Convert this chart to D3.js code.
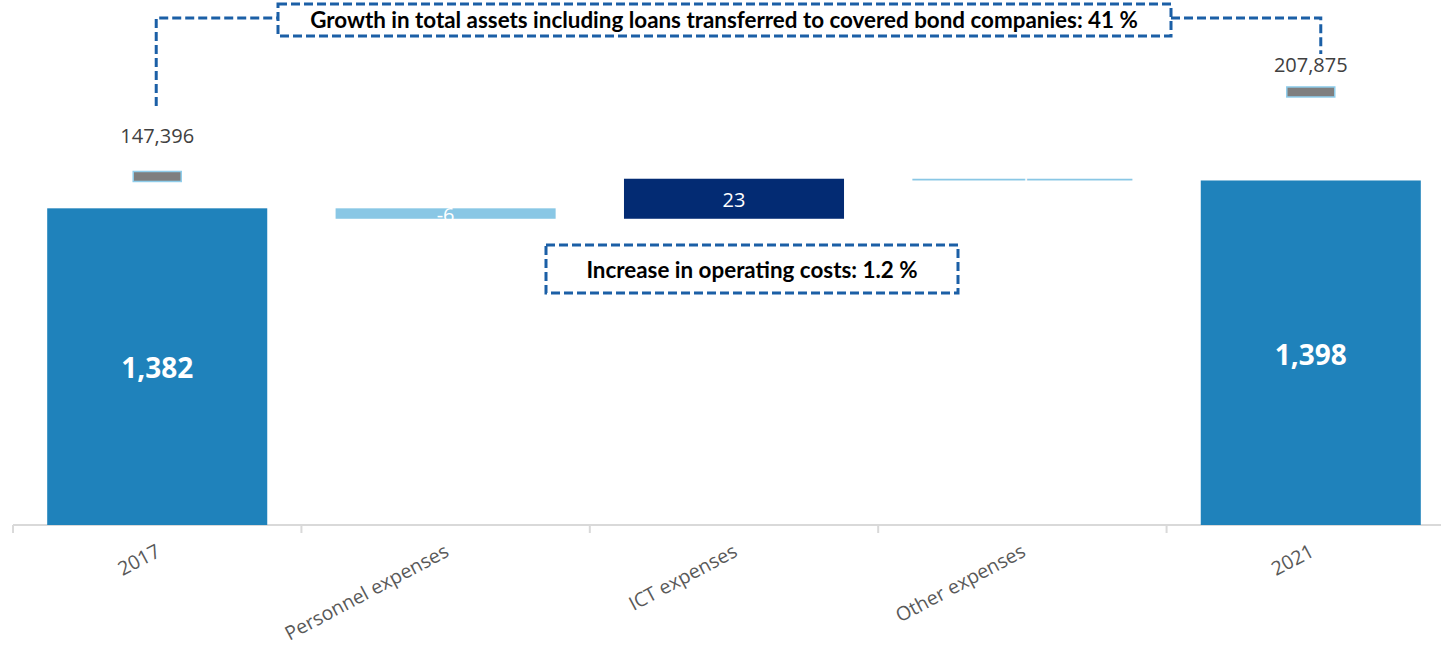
<!DOCTYPE html>
<html>
<head>
<meta charset="utf-8">
<script src="https://cdn.jsdelivr.net/npm/d3@7/dist/d3.min.js"></script>
<style>
  html, body { margin: 0; padding: 0; background: #ffffff; }
  svg { display: block; }
</style>
</head>
<body>
<svg id="chart" width="1441" height="651"></svg>
<script>
// Operating costs bridge 2017 -> 2021 (NOK million) with total assets on a secondary scale
const categories = ["2017", "Personnel expenses", "ICT expenses", "Other expenses", "2021"];
const barKinds   = ["total", "delta", "delta", "delta", "total"];
const costValues = [1382, -6, 23, -1, 1398];
const totalAssets = [147396, null, null, null, 207875];
const growthNote = "Growth in total assets including loans transferred to covered bond companies: 41 %";
const costNote = "Increase in operating costs: 1.2 %";

const svg = d3.select("#chart");

const x = d3.scaleBand()
  .domain(categories)
  .range([13, 1455])
  .paddingInner(0.237)
  .paddingOuter(0.1186);

const y = d3.scaleLinear().domain([1200, 1500]).range([525, 3]);
const y2 = d3.scaleLinear().domain([-100000, 250000]).range([522.2, 33.1]);

const colTotal = "#1f82bb";
const colDown = "#89c7e5";
const colUp = "#032b73";

// Build waterfall segments
let running = 0;
const segs = categories.map((c, i) => {
  const v = costValues[i];
  let lo, hi, fill;
  if (barKinds[i] === "total") {
    lo = y.domain()[0]; hi = v; running = v; fill = colTotal;
  } else {
    const start = running, end = running + v;
    lo = Math.min(start, end); hi = Math.max(start, end);
    running = end;
    fill = v < 0 ? colDown : colUp;
  }
  return { c, v, lo, hi, fill, kind: barKinds[i] };
});

// Category axis: baseline with separators between categories
const axisY = 525;
const axisG = svg.append("g").attr("transform", `translate(0,${axisY})`);
axisG.call(d3.axisBottom(x).tickSize(0).tickFormat(""));
axisG.select(".domain").remove();
axisG.selectAll(".tick").remove();
axisG.append("line")
  .attr("x1", x.range()[0]).attr("x2", x.range()[1]).attr("y1", 0).attr("y2", 0)
  .attr("stroke", "#d9d9d9").attr("stroke-width", 2);
const boundaries = categories.map(c => x(c) - x.step() * x.paddingInner() / 2);
axisG.selectAll("line.sep")
  .data(boundaries)
  .join("line")
  .attr("class", "sep")
  .attr("x1", d => d).attr("x2", d => d)
  .attr("y1", 0).attr("y2", 8)
  .attr("stroke", "#d9d9d9").attr("stroke-width", 2);

// Bars
svg.append("g").selectAll("rect")
  .data(segs)
  .join("rect")
  .attr("x", d => x(d.c))
  .attr("width", x.bandwidth())
  .attr("y", d => y(d.hi))
  .attr("height", d => Math.max(1, y(d.lo) - y(d.hi)))
  .attr("fill", d => d.fill);

// Bar value labels
const fmt = d3.formatLocale({ decimal: ".", thousands: ",", grouping: [3], currency: ["", ""], minus: "-" }).format(",");
svg.append("g").selectAll("text")
  .data(segs)
  .join("text")
  .attr("x", d => x(d.c) + x.bandwidth() / 2)
  .attr("y", d => (y(d.lo) + y(d.hi)) / 2)
  .attr("dy", "0.42em")
  .attr("text-anchor", "middle")
  .attr("fill", "#ffffff")
  .style("font-family", "'Open Sans', sans-serif")
  .style("font-size", d => d.kind === "total" ? "28px" : "20px")
  .style("font-weight", d => d.kind === "total" ? "700" : "400")
  .text(d => fmt(d.v));

// Category labels, rotated
svg.append("g").selectAll("text")
  .data(categories)
  .join("text")
  .attr("transform", c => `translate(${x(c) + x.bandwidth() / 2 - 2},${543}) rotate(-28)`)
  .attr("dy", "0.72em")
  .attr("text-anchor", "end")
  .attr("fill", "#595959")
  .style("font-family", "'Open Sans', sans-serif")
  .style("font-size", "19.5px")
  .text(c => c);

// Total assets markers
const assetPts = categories.map((c, i) => ({ c, v: totalAssets[i], i })).filter(d => d.v != null);
svg.append("g").selectAll("rect")
  .data(assetPts)
  .join("rect")
  .attr("x", d => x(d.c) + x.bandwidth() / 2 - 24)
  .attr("y", d => y2(d.v) - 5)
  .attr("width", 48)
  .attr("height", 10)
  .attr("fill", "#7f7f7f")
  .attr("stroke", "#8fcdeb")
  .attr("stroke-width", 1.5);

svg.append("g").selectAll("text")
  .data(assetPts)
  .join("text")
  .attr("x", d => x(d.c) + x.bandwidth() / 2)
  .attr("y", d => y2(d.v) - (d.i === 0 ? 33.5 : 19.5))
  .attr("text-anchor", "middle")
  .attr("fill", "#404040")
  .style("font-family", "'Open Sans', sans-serif")
  .style("font-size", "20px")
  .text(d => fmt(d.v));

// Dashed annotation boxes and connectors
const dashColor = "#1b5fa6";
const dashStyle = g => g
  .attr("fill", "none")
  .attr("stroke", dashColor)
  .attr("stroke-width", 3)
  .attr("stroke-dasharray", "9,4");

const cx0 = x(categories[0]) + x.bandwidth() / 2;
const cx4 = x(categories[4]) + x.bandwidth() / 2;

svg.append("path")
  .attr("d", `M${cx0 - 1},106 V18 H278`)
  .call(dashStyle);
svg.append("path")
  .attr("d", `M1171,18 H${cx4 + 10} V54`)
  .call(dashStyle);
svg.append("rect")
  .attr("x", 278).attr("y", 4).attr("width", 893).attr("height", 32)
  .call(dashStyle).attr("fill", "#ffffff");
svg.append("text")
  .attr("x", 724).attr("y", 28)
  .attr("text-anchor", "middle")
  .attr("fill", "#000000")
  .style("font-family", "Lato, sans-serif")
  .style("font-weight", "700")
  .style("font-size", "22.4px")
  .text(growthNote);

svg.append("rect")
  .attr("x", 546).attr("y", 245).attr("width", 412).attr("height", 48)
  .call(dashStyle);
svg.append("text")
  .attr("x", 752).attr("y", 277.5)
  .attr("text-anchor", "middle")
  .attr("fill", "#000000")
  .style("font-family", "Lato, sans-serif")
  .style("font-weight", "700")
  .style("font-size", "22.4px")
  .text(costNote);
</script>
</body>
</html>
